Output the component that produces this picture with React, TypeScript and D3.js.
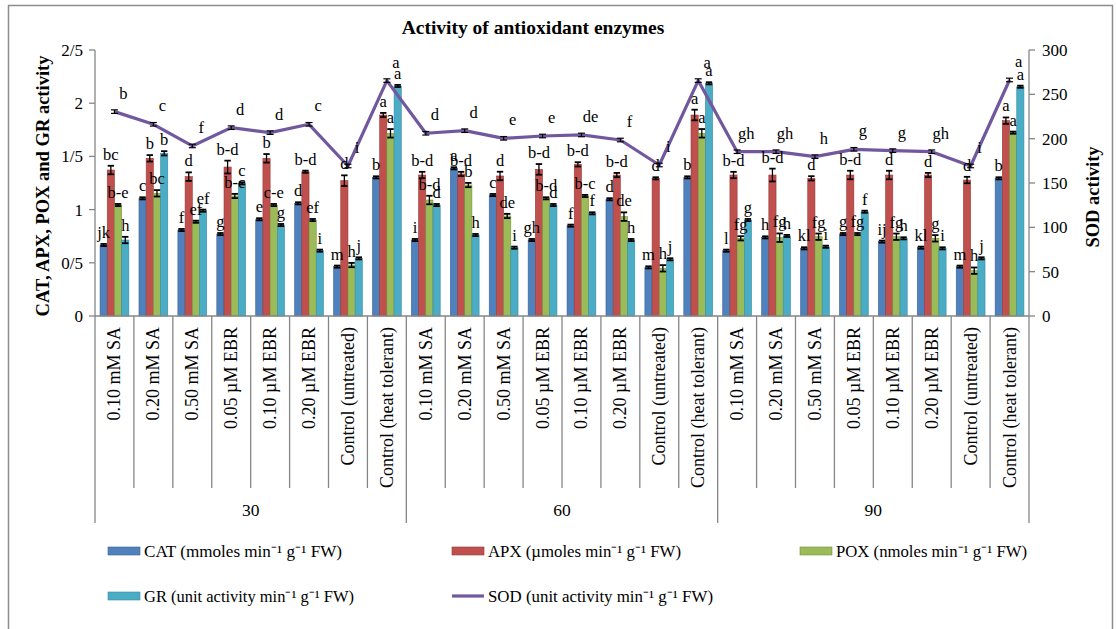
import React from "react";
import * as d3 from "d3";

const treatments = ["0.10 mM SA", "0.20 mM SA", "0.50 mM SA", "0.05 µM EBR", "0.10 µM EBR", "0.20 µM EBR", "Control (untreated)", "Control (heat tolerant)"];
const groups = ["30", "60", "90"];

const CAT = [0.667, 1.106, 0.808, 0.77, 0.909, 1.059, 0.464, 1.303, 0.714, 1.388, 1.137, 0.714, 0.849, 1.097, 0.457, 1.303, 0.614, 0.739, 0.636, 0.77, 0.699, 0.642, 0.464, 1.294];
const APX = [1.372, 1.482, 1.31, 1.40, 1.482, 1.356, 1.272, 1.889, 1.325, 1.335, 1.316, 1.378, 1.425, 1.325, 1.294, 1.889, 1.325, 1.325, 1.294, 1.325, 1.325, 1.325, 1.278, 1.836];
const POX = [1.043, 1.153, 0.886, 1.128, 1.043, 0.902, 0.479, 1.717, 1.09, 1.231, 0.94, 1.106, 1.128, 0.934, 0.448, 1.717, 0.73, 0.736, 0.745, 0.77, 0.745, 0.73, 0.426, 1.723];
const GR = [0.714, 1.529, 0.99, 1.247, 0.855, 0.614, 0.542, 2.162, 1.043, 0.761, 0.642, 1.043, 0.965, 0.714, 0.533, 2.187, 0.902, 0.752, 0.651, 0.98, 0.73, 0.636, 0.542, 2.155];
const SOD = [230.5, 216.2, 191.8, 212.4, 206.8, 216.2, 169.2, 265.5, 206.1, 209, 200.4, 203, 204.2, 198.5, 170.3, 265.5, 185.3, 185.3, 179.7, 188, 186.5, 185.3, 169.2, 266.2];

const CAT_ERR = [0.01, 0.01, 0.01, 0.01, 0.01, 0.01, 0.01, 0.01, 0.01, 0.01, 0.01, 0.01, 0.01, 0.01, 0.01, 0.01, 0.01, 0.01, 0.01, 0.01, 0.01, 0.01, 0.01, 0.01];
const APX_ERR = [0.04, 0.03, 0.04, 0.06, 0.04, 0.01, 0.05, 0.02, 0.03, 0.02, 0.04, 0.05, 0.02, 0.02, 0.01, 0.05, 0.03, 0.06, 0.02, 0.04, 0.04, 0.02, 0.03, 0.03];
const POX_ERR = [0.01, 0.03, 0.01, 0.02, 0.01, 0.01, 0.02, 0.04, 0.04, 0.02, 0.02, 0.01, 0.01, 0.04, 0.03, 0.04, 0.02, 0.04, 0.03, 0.01, 0.03, 0.03, 0.03, 0.01];
const GR_ERR = [0.03, 0.02, 0.01, 0.01, 0.01, 0.01, 0.01, 0.01, 0.01, 0.01, 0.01, 0.01, 0.01, 0.01, 0.01, 0.01, 0.01, 0.01, 0.01, 0.01, 0.01, 0.01, 0.01, 0.01];
const SOD_ERR = [2, 2, 2, 2, 2, 2, 2, 2, 2, 2, 2, 2, 2, 2, 2, 2, 2, 2, 2, 2, 2, 2, 2, 2];

const CAT_LBL = ["jk", "c", "f", "g", "e", "d", "m", "b", "i", "a", "c", "gh", "f", "d", "m", "b", "l", "h", "kl", "g", "ij", "kl", "m", "b"];
const APX_LBL = ["bc", "b", "d", "b-d", "b", "b-d", "d", "a", "b-d", "b-d", "d", "b-d", "b-d", "b-d", "d", "a", "b-d", "b-d", "d", "b-d", "d", "d", "d", "a"];
const POX_LBL = ["b-e", "bc", "ef", "b-c", "c-e", "ef", "h", "a", "b-d", "b", "de", "b-d", "b-c", "de", "h", "a", "fg", "fg", "fg", "fg", "fg", "g", "h", "a"];
const GR_LBL = ["h", "b", "ef", "c", "g", "i", "j", "a", "d", "h", "i", "d", "f", "h", "j", "a", "g", "h", "i", "f", "h", "i", "j", "a"];
const SOD_LBL = ["b", "c", "f", "d", "d", "c", "i", "a", "d", "d", "e", "e", "de", "f", "i", "a", "gh", "gh", "h", "g", "g", "gh", "i", "a"];

const leftTicks = [0, 0.5, 1, 1.5, 2, 2.5];
const leftTickLabels = ["0", "0/5", "1", "1/5", "2", "2/5"];
const rightTicks = [0, 50, 100, 150, 200, 250, 300];

const seriesNames = ["CAT", "APX", "POX", "GR"];
const seriesData = [CAT, APX, POX, GR];
const seriesErr = [CAT_ERR, APX_ERR, POX_ERR, GR_ERR];
const seriesLbl = [CAT_LBL, APX_LBL, POX_LBL, GR_LBL];
const fills = ["#4F81BD", "#C0504D", "#9BBB59", "#4BACC6"];
const strokes = ["#3A6396", "#943B39", "#76923F", "#368CA3"];
const sodColor = "#71589E";

const legendItems = [
  { label: "CAT  (mmoles min⁻¹ g⁻¹ FW)", kind: "bar", color: 0, x: 108, y: 551, len: 198 },
  { label: "APX (µmoles min⁻¹ g⁻¹ FW)", kind: "bar", color: 1, x: 452, y: 551, len: 193 },
  { label: "POX (nmoles min⁻¹ g⁻¹ FW)", kind: "bar", color: 2, x: 800, y: 551, len: 191 },
  { label: "GR (unit activity min⁻¹ g⁻¹ FW)", kind: "bar", color: 3, x: 108, y: 596, len: 210 },
  { label: "SOD (unit activity min⁻¹ g⁻¹ FW)", kind: "line", color: 4, x: 452, y: 596, len: 225 },
];

const FONT = "'Liberation Serif', 'Times New Roman', serif";

export default function App() {
  const W = 1117, H = 629;
  const x0 = 95, x1 = 1029, yTop = 50, yBot = 316;
  const n = CAT.length;
  const idx = d3.range(n);
  const x = d3.scaleBand<number>().domain(idx).range([x0, x1]).paddingInner(0).paddingOuter(0);
  const bw = x.bandwidth();
  const xs = d3.scaleBand<string>().domain(seriesNames).range([bw * 0.13, bw * 0.87]).padding(0);
  const yL = d3.scaleLinear().domain([0, 2.5]).range([yBot, yTop]);
  const yR = d3.scaleLinear().domain([0, 300]).range([yBot, yTop]);
  const axisColor = "#868686";
  const sodLine = d3.line<number>().x((_, i) => (x(i) as number) + bw / 2).y((d) => yR(d));
  const cats = groups.flatMap((g) => treatments.map((t) => ({ g, t })));

  return (
    <svg width={W} height={H} style={{ position: "absolute", left: 0, top: 0, background: "#fff" }} fontFamily={FONT}>
      <rect x={0} y={0} width={W} height={H} fill="#fff" />
      <rect x={8.5} y={5.5} width={1104} height={700} fill="none" stroke="#8c8c8c" strokeWidth={1.5} />
      <text x={533} y={34} textAnchor="middle" fontSize={19.5} fontWeight="bold">Activity of antioxidant enzymes</text>

      {/* bars */}
      {seriesData.map((arr, s) => (
        <g key={s}>
          {arr.map((v, i) => {
            const bx = (x(i) as number) + (xs(seriesNames[s]) as number);
            const w = xs.bandwidth();
            return (
              <rect key={i} x={bx} y={yL(v)} width={w} height={yBot - yL(v)} fill={fills[s]} stroke={strokes[s]} strokeWidth={0.6} />
            );
          })}
        </g>
      ))}

      {/* error bars for bars */}
      {seriesData.map((arr, s) => (
        <g key={"e" + s} stroke="#000" strokeWidth={1.3}>
          {arr.map((v, i) => {
            const cx = (x(i) as number) + (xs(seriesNames[s]) as number) + xs.bandwidth() / 2;
            const e = seriesErr[s][i];
            const t = yL(v + e), b = yL(v - e);
            return (
              <g key={i}>
                <line x1={cx} x2={cx} y1={t} y2={b} />
                <line x1={cx - 3.2} x2={cx + 3.2} y1={t} y2={t} strokeWidth={1.8} />
                <line x1={cx - 3.2} x2={cx + 3.2} y1={b} y2={b} strokeWidth={1.8} />
              </g>
            );
          })}
        </g>
      ))}

      {/* SOD line */}
      <path d={sodLine(SOD) || ""} fill="none" stroke={sodColor} strokeWidth={3.2} strokeLinejoin="round" />
      <g stroke="#000" strokeWidth={1.2}>
        {SOD.map((v, i) => {
          const cx = (x(i) as number) + bw / 2;
          const t = yR(v + SOD_ERR[i]), b = yR(v - SOD_ERR[i]);
          return (
            <g key={i}>
              <line x1={cx} x2={cx} y1={t} y2={b} />
              <line x1={cx - 3.5} x2={cx + 3.5} y1={t} y2={t} />
              <line x1={cx - 3.5} x2={cx + 3.5} y1={b} y2={b} />
            </g>
          );
        })}
      </g>

      {/* bar letters */}
      {seriesData.map((arr, s) => (
        <g key={"l" + s} fontSize={16.5} textAnchor="middle" fill="#000">
          {arr.map((v, i) => {
            const cx = (x(i) as number) + (xs(seriesNames[s]) as number) + xs.bandwidth() / 2;
            const t = yL(v + seriesErr[s][i]);
            return <text key={i} x={cx} y={t - 6}>{seriesLbl[s][i]}</text>;
          })}
        </g>
      ))}
      {/* SOD letters */}
      <g fontSize={16.5} textAnchor="middle">
        {SOD.map((v, i) => (
          <text key={i} x={(x(i) as number) + bw / 2 + 9} y={yR(v) - 13}>{SOD_LBL[i]}</text>
        ))}
      </g>

      {/* left axis */}
      <line x1={x0} x2={x0} y1={yTop} y2={yBot} stroke={axisColor} strokeWidth={1.3} />
      {leftTicks.map((t, i) => (
        <g key={i}>
          <line x1={x0 - 6} x2={x0} y1={yL(t)} y2={yL(t)} stroke={axisColor} strokeWidth={1.3} />
          <text x={x0 - 12} y={yL(t)} dy="0.35em" textAnchor="end" fontSize={17}>{leftTickLabels[i]}</text>
        </g>
      ))}
      <text transform={`translate(49,186) rotate(-90)`} textAnchor="middle" fontSize={18.5} fontWeight="bold">CAT, APX, POX and GR activity</text>

      {/* right axis */}
      <line x1={x1} x2={x1} y1={yTop} y2={yBot} stroke={axisColor} strokeWidth={1.3} />
      {rightTicks.map((t, i) => (
        <g key={i}>
          <line x1={x1} x2={x1 + 6} y1={yR(t)} y2={yR(t)} stroke={axisColor} strokeWidth={1.3} />
          <text x={x1 + 13} y={yR(t)} dy="0.35em" textAnchor="start" fontSize={17}>{t}</text>
        </g>
      ))}
      <text transform={`translate(1099,197) rotate(-90)`} textAnchor="middle" fontSize={18.5} fontWeight="bold">SOD activity</text>

      {/* x axis */}
      <line x1={x0} x2={x1} y1={yBot} y2={yBot} stroke={axisColor} strokeWidth={1.3} />
      {d3.range(n + 1).map((k) => {
        const xx = x0 + bw * k;
        const isGroup = k % treatments.length === 0;
        return <line key={k} x1={xx} x2={xx} y1={yBot} y2={isGroup ? 523 : 488} stroke={axisColor} strokeWidth={1.3} />;
      })}
      {cats.map((c, i) => (
        <text key={i} transform={`translate(${(x(i) as number) + bw / 2 + 6},327) rotate(-90)`} textAnchor="end" fontSize={18}>{c.t}</text>
      ))}
      {groups.map((g, gi) => {
        const a = x0 + bw * treatments.length * gi;
        const b = a + bw * treatments.length;
        return <text key={g} x={(a + b) / 2} y={516} textAnchor="middle" fontSize={17.5}>{g}</text>;
      })}

      {/* legend */}
      {legendItems.map((it, i) => (
        <g key={i}>
          {it.kind === "bar" ? (
            <rect x={it.x} y={it.y - 4} width={32} height={8} fill={fills[it.color]} stroke={strokes[it.color]} strokeWidth={0.6} />
          ) : (
            <line x1={it.x} x2={it.x + 32} y1={it.y} y2={it.y} stroke={sodColor} strokeWidth={3.2} />
          )}
          <text x={it.x + 36} y={it.y} dy="0.35em" fontSize={16.5} textLength={it.len} lengthAdjust="spacingAndGlyphs">{it.label}</text>
        </g>
      ))}
    </svg>
  );
}
